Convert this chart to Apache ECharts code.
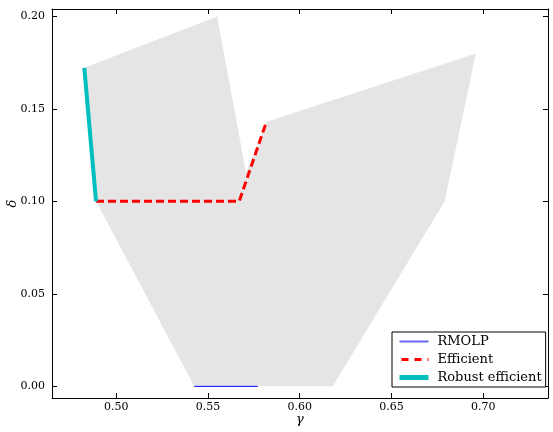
<!DOCTYPE html>
<html>
<head>
<meta charset="utf-8">
<script src="https://cdn.jsdelivr.net/npm/echarts@6/dist/echarts.min.js"></script>
<style>html,body{margin:0;padding:0;background:#fff}#c{width:553px;height:432px}</style>
</head>
<body>
<div id="c"></div>
<script>
// Feasible region polygon (gamma, delta)
const regionGamma = [0.4826, 0.555, 0.5707, 0.582, 0.696, 0.679, 0.618, 0.5425, 0.489];
const regionDelta = [0.1722, 0.200, 0.1158, 0.143, 0.180, 0.100, 0.000, 0.000, 0.100];
// RMOLP
const rmolpGamma = [0.5425, 0.5771];
const rmolpDelta = [0.000, 0.000];
// Efficient
const effGamma = [0.489, 0.567, 0.5815];
const effDelta = [0.100, 0.100, 0.142];
// Robust efficient
const robGamma = [0.4826, 0.489];
const robDelta = [0.1722, 0.100];

const zip = (a, b) => a.map((v, i) => [v, b[i]]);
const region = zip(regionGamma, regionDelta);

const FONT = 'DejaVu Serif';
const X_MIN = 0.465, X_MAX = 0.7353, Y_MIN = -0.0063, Y_MAX = 0.2040;

const axisCommon = {
  type: 'value',
  axisLine: { show: true, onZero: false, lineStyle: { color: '#000', width: 1 } },
  axisTick: { show: true, inside: true, length: 5, lineStyle: { color: '#000', width: 1 } },
  splitLine: { show: false }
};

const chart = echarts.init(document.getElementById('c'), null, { renderer: 'canvas' });
chart.setOption({
  animation: false,
  backgroundColor: '#fff',
  grid: { left: 52, top: 9, width: 496, height: 389, show: false, containLabel: false, outerBoundsMode: 'none' },
  xAxis: [
    Object.assign({}, axisCommon, {
      position: 'bottom', min: X_MIN, max: X_MAX, splitNumber: 5,
      name: 'γ', nameLocation: 'middle', nameGap: 15, nameMoveOverlap: false,
      nameTextStyle: { fontFamily: FONT, fontStyle: 'italic', fontSize: 13, color: '#000' },
      axisLabel: { show: true, margin: 4, fontFamily: FONT, fontSize: 11, color: '#000',
        showMinLabel: false, showMaxLabel: false, formatter: v => v.toFixed(2) }
    }),
    Object.assign({}, axisCommon, {
      position: 'top', min: X_MIN, max: X_MAX, splitNumber: 5,
      axisLabel: { show: false }
    })
  ],
  yAxis: [
    Object.assign({}, axisCommon, {
      position: 'left', min: Y_MIN, max: Y_MAX, splitNumber: 5,
      name: 'δ', nameLocation: 'middle', nameGap: 33, nameRotate: 90, nameMoveOverlap: false,
      nameTextStyle: { fontFamily: FONT, fontStyle: 'italic', fontSize: 13, color: '#000' },
      axisLabel: { show: true, margin: 7, fontFamily: FONT, fontSize: 11, color: '#000',
        showMinLabel: false, showMaxLabel: false, formatter: v => v.toFixed(2) }
    }),
    Object.assign({}, axisCommon, {
      position: 'right', min: Y_MIN, max: Y_MAX, splitNumber: 5,
      axisLabel: { show: false }
    })
  ],
  legend: {
    orient: 'vertical',
    left: 392, top: 332,
    padding: [3, 4, 3, 5],
    itemGap: 5,
    itemWidth: 29, itemHeight: 14,
    backgroundColor: '#fff',
    borderColor: '#000', borderWidth: 1, borderRadius: 0,
    itemStyle: { opacity: 0 },
    textStyle: { fontFamily: FONT, fontSize: 13, color: '#000', padding: [0, 0, 0, 4] },
    data: [
      { name: 'RMOLP', lineStyle: { width: 2, color: '#6666ee' } },
      { name: 'Efficient', lineStyle: { width: 3, type: [7, 6], dashOffset: -2 } },
      { name: 'Robust efficient', lineStyle: { width: 5 } }
    ]
  },
  series: [
    {
      type: 'custom', name: 'region', silent: true, z: 1,
      data: region,
      encode: { x: 0, y: 1 },
      renderItem: function (params, api) {
        if (params.dataIndex !== 0) return null;
        const pts = region.map(p => api.coord(p));
        return { type: 'polygon', shape: { points: pts }, style: { fill: '#e5e5e5', stroke: null } };
      }
    },
    {
      type: 'line', name: 'RMOLP', data: zip(rmolpGamma, rmolpDelta), symbol: 'none', z: 3,
      lineStyle: { color: '#0000ff', width: 1 }, itemStyle: { color: '#0000ff' }
    },
    {
      type: 'line', name: 'Efficient', data: zip(effGamma, effDelta), symbol: 'none', z: 3,
      lineStyle: { color: '#ff0000', width: 3, type: [8, 4] }, itemStyle: { color: '#ff0000' }
    },
    {
      type: 'line', name: 'Robust efficient', data: zip(robGamma, robDelta), symbol: 'none', z: 4,
      lineStyle: { color: '#00bfbf', width: 4 }, itemStyle: { color: '#00bfbf' }
    }
  ]
});
</script>
</body>
</html>
